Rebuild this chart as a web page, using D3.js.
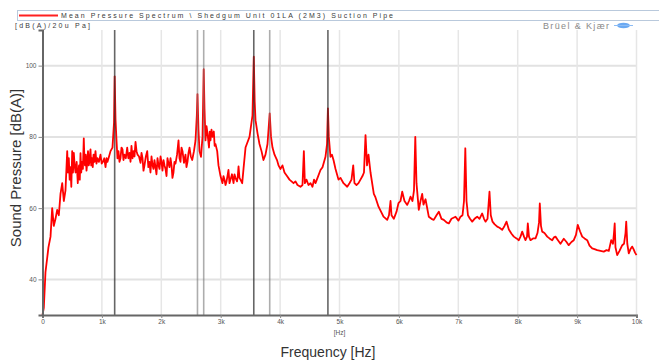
<!DOCTYPE html>
<html>
<head>
<meta charset="utf-8">
<script src="https://cdn.jsdelivr.net/npm/d3@7"></script>
<style>
  html, body { margin: 0; padding: 0; background: #fff; }
  svg { display: block; font-family: "Liberation Sans", Arial, sans-serif; }
</style>
</head>
<body>
<svg id="chart" width="659" height="361"></svg>
<script>
// spectrum: [frequency Hz, level dB(A)]
const spectrum = [
  [0, 30], [22, 32], [50, 42], [79, 46], [100, 49], [135, 52], [163, 60], [190, 55],
  [219, 57], [247, 59.5], [275, 58], [303, 64], [332, 67], [359, 62], [387, 65], [416, 76],
  [430, 70], [443, 74], [457, 68], [471, 71.5], [485, 66], [500, 76], [513, 70], [527, 75.5],
  [541, 72], [556, 70], [575, 73], [594, 67], [605, 70], [615, 72], [628, 68], [640, 75.4],
  [652, 70], [665, 73], [680, 71], [695, 79.6], [705, 74], [715, 72], [728, 75], [741, 70.5],
  [754, 73], [766, 76], [779, 72], [791, 73], [800, 75], [808, 76.5], [820, 72], [833, 74],
  [846, 71.5], [859, 75], [875, 73], [892, 76], [909, 72.5], [926, 74], [950, 73], [976, 75],
  [997, 72.5], [1018, 73], [1040, 74], [1061, 71.5], [1078, 74], [1094, 73], [1120, 74.5], [1145, 76],
  [1178, 77], [1204, 84], [1215, 97], [1229, 85], [1246, 79], [1262, 74], [1279, 76], [1296, 73],
  [1313, 74], [1330, 77], [1347, 76.5], [1363, 73.5], [1380, 75], [1403, 74], [1426, 77], [1445, 74],
  [1465, 75.5], [1482, 73], [1498, 77.5], [1515, 74], [1532, 76], [1549, 74.5], [1566, 78.6], [1583, 76],
  [1600, 75], [1625, 74.5], [1650, 72.7], [1667, 75.5], [1684, 74], [1700, 70.5], [1717, 72], [1740, 74.5],
  [1763, 76], [1782, 71.5], [1801, 73], [1818, 70], [1835, 74.5], [1852, 72], [1869, 71], [1885, 73.5],
  [1902, 71.5], [1919, 69.5], [1936, 74], [1953, 72], [1970, 71], [1987, 74.5], [2003, 73], [2020, 70.5],
  [2037, 73.5], [2054, 72], [2071, 71], [2088, 69], [2104, 74], [2121, 72.5], [2138, 71.5], [2155, 74],
  [2172, 72], [2188, 68.5], [2205, 70], [2222, 73], [2239, 72.5], [2265, 75], [2290, 79], [2306, 74],
  [2323, 73], [2340, 77], [2357, 76], [2382, 72.7], [2407, 75], [2424, 71.5], [2441, 73], [2458, 75.5],
  [2475, 77], [2497, 74.5], [2520, 73.5], [2550, 76], [2576, 79], [2598, 86], [2609, 92], [2626, 82],
  [2643, 76], [2668, 74.4], [2694, 80], [2714, 99], [2727, 88], [2744, 79], [2761, 83], [2778, 81],
  [2803, 77], [2816, 81.5], [2828, 79], [2845, 82], [2862, 80], [2884, 81.5], [2898, 77.5], [2912, 78],
  [2941, 76], [2963, 72], [2997, 69], [3030, 67], [3047, 69], [3064, 68], [3081, 66.5], [3098, 67.5],
  [3114, 69], [3131, 70.7], [3148, 67], [3165, 68], [3190, 69.5], [3216, 67], [3232, 69.5], [3249, 68.5],
  [3275, 67.5], [3288, 69], [3300, 71.7], [3316, 68.5], [3333, 68], [3362, 67], [3384, 71], [3418, 77],
  [3451, 78.5], [3485, 80], [3510, 83], [3535, 86], [3557, 102.5], [3572, 90], [3586, 84.7], [3620, 81],
  [3653, 78], [3687, 76], [3720, 73.5], [3754, 75], [3788, 78], [3825, 86.6], [3847, 80], [3872, 77],
  [3906, 75], [3948, 73.5], [3973, 72], [4007, 71], [4040, 72], [4074, 70], [4116, 69], [4158, 68],
  [4192, 67.5], [4226, 67], [4259, 67.5], [4293, 66.5], [4343, 66], [4377, 66.5], [4400, 76], [4417, 67],
  [4444, 68], [4478, 66.5], [4512, 67], [4545, 66], [4571, 68], [4596, 67], [4630, 68.5], [4680, 70.7],
  [4714, 71.5], [4764, 74.4], [4790, 78], [4805, 88], [4820, 80], [4848, 74.4], [4873, 75], [4899, 73.5],
  [4933, 71], [4983, 68], [5017, 68.5], [5067, 67], [5130, 66], [5168, 67], [5202, 68], [5231, 72],
  [5252, 67], [5286, 66.5], [5320, 67], [5353, 68], [5387, 69], [5412, 70], [5438, 80.5], [5463, 72],
  [5488, 75], [5522, 70], [5578, 64], [5606, 63], [5657, 60.4], [5699, 59], [5741, 57.6], [5803, 56.7],
  [5833, 58], [5859, 62], [5876, 58], [5914, 57], [5960, 59], [5993, 61.4], [6027, 62], [6056, 64.6],
  [6094, 62], [6140, 60.9], [6170, 62], [6195, 63.2], [6229, 62], [6254, 65], [6276, 80], [6296, 67],
  [6335, 59.5], [6364, 62], [6392, 64], [6414, 61], [6448, 62.5], [6503, 57.6], [6549, 57], [6587, 56.7],
  [6633, 58], [6672, 59], [6717, 57], [6756, 56.7], [6801, 56], [6840, 55.7], [6885, 57], [6953, 57.6],
  [7003, 56.5], [7037, 57.6], [7071, 58], [7096, 62], [7118, 76.8], [7138, 62], [7163, 58], [7197, 57],
  [7234, 56.2], [7273, 57], [7318, 57.6], [7357, 57], [7402, 58.5], [7433, 57], [7458, 56.2], [7492, 57],
  [7525, 64.6], [7547, 58], [7576, 56.2], [7609, 55.5], [7655, 54.8], [7694, 54.5], [7739, 53.9], [7778, 55],
  [7812, 56.2], [7851, 54], [7896, 52.8], [7935, 52], [7980, 51.5], [8019, 51], [8047, 52], [8076, 53.4],
  [8106, 52], [8131, 51], [8157, 52], [8170, 55.7], [8190, 52], [8215, 51], [8258, 51.5], [8300, 51.5],
  [8333, 53], [8359, 56], [8372, 61.3], [8392, 55], [8412, 53.4], [8451, 53], [8497, 52], [8535, 51.5],
  [8581, 51], [8611, 51.8], [8636, 52], [8678, 51], [8720, 50], [8776, 51.4], [8822, 50.5], [8859, 49.6],
  [8905, 50.5], [8944, 51], [8981, 52.5], [9011, 55.3], [9049, 53.5], [9086, 52], [9125, 51.5], [9170, 51],
  [9209, 49.5], [9254, 48.7], [9293, 48.5], [9338, 48.2], [9394, 48], [9449, 47.8], [9495, 48.2], [9534, 48],
  [9574, 51], [9604, 50], [9621, 53], [9633, 55.7], [9646, 49], [9675, 46.8], [9714, 48], [9760, 49.6],
  [9790, 50], [9815, 53], [9827, 56.2], [9845, 50], [9870, 47.3], [9899, 48.5], [9928, 49.2], [9950, 48.5],
  [9975, 47.5], [10000, 46.8]
];

// harmonic cursor lines (Hz) and how dark they are drawn
const cursorHz = [1215, 2609, 2714, 3557, 3825, 4805];
const cursorDark = [true, false, false, true, false, true];

const yTicks = [40, 60, 80, 100];
const xTicks = [0, 1000, 2000, 3000, 4000, 5000, 6000, 7000, 8000, 9000, 10000];
const xTickLabels = ["0", "1k", "2k", "3k", "4k", "5k", "6k", "7k", "8k", "9k", "10k"];

const legendText = "Mean Pressure Spectrum  \\ Shedgum  Unit 01LA (2M3) Suction Pipe";

const svg = d3.select("#chart");

const x = d3.scaleLinear().domain([0, 10000]).range([42.5, 636.5]);
const y = d3.scaleLinear().domain([30, 110]).range([315, 30]);

// legend strip across the top
svg.append("rect")
  .attr("x", 17.5).attr("y", 10.5)
  .attr("width", 660).attr("height", 10)
  .attr("fill", "#fff")
  .attr("stroke", "#b9c9dc")
  .attr("stroke-width", 1);
svg.append("line")
  .attr("x1", 19).attr("x2", 58).attr("y1", 15.5).attr("y2", 15.5)
  .attr("stroke", "#ff2020").attr("stroke-width", 2);
svg.append("text")
  .attr("x", 61).attr("y", 18)
  .attr("font-size", 7).attr("fill", "#3a3a3a")
  .attr("textLength", 332).attr("lengthAdjust", "spacing")
  .text(legendText);

svg.append("text")
  .attr("x", 15).attr("y", 28)
  .attr("font-size", 7).attr("fill", "#3a3a3a")
  .attr("textLength", 75).attr("lengthAdjust", "spacing")
  .text("[dB(A)/20u Pa]");

svg.append("text")
  .attr("x", 543).attr("y", 28.5)
  .attr("font-size", 9).attr("fill", "#8a8a8a")
  .attr("textLength", 66).attr("lengthAdjust", "spacing")
  .text("Brüel & Kjær");
svg.append("ellipse")
  .attr("cx", 623.5).attr("cy", 25.5).attr("rx", 6.5).attr("ry", 2.8)
  .attr("fill", "#6aa9f2");
svg.append("line")
  .attr("x1", 614).attr("x2", 633).attr("y1", 25.5).attr("y2", 25.5)
  .attr("stroke", "#8cbcf5").attr("stroke-width", 1);

// grid
const grid = svg.append("g");
grid.selectAll(".hg").data(yTicks).enter().append("line")
  .attr("x1", x(0)).attr("x2", x(10000))
  .attr("y1", d => y(d)).attr("y2", d => y(d))
  .attr("stroke", "#e2e2e2").attr("stroke-width", 2);
grid.selectAll(".vg").data(xTicks.slice(1)).enter().append("line")
  .attr("x1", d => x(d)).attr("x2", d => x(d))
  .attr("y1", y(110)).attr("y2", y(30))
  .attr("stroke", "#e6e6e6").attr("stroke-width", 1.5);

// the spectrum
const line = d3.line()
  .x(d => x(d[0]))
  .y(d => y(d[1]));

svg.append("path")
  .datum(spectrum)
  .attr("d", line)
  .attr("fill", "none")
  .attr("stroke", "#ff0000")
  .attr("stroke-width", 1.8)
  .attr("stroke-linejoin", "round");

// cursor lines drawn over the curve
svg.selectAll(".cursor").data(cursorHz).enter().append("line")
  .attr("x1", d => x(d)).attr("x2", d => x(d))
  .attr("y1", y(110)).attr("y2", y(30))
  .attr("stroke", (d, i) => cursorDark[i] ? "#333" : "#777")
  .attr("stroke-opacity", (d, i) => cursorDark[i] ? 0.75 : 0.6)
  .attr("stroke-width", 1.6);

// axes
const xAxis = d3.axisBottom(x)
  .tickValues(xTicks)
  .tickFormat((d, i) => xTickLabels[i])
  .tickSize(3);
const gx = svg.append("g")
  .attr("transform", `translate(0,${y(30)})`)
  .call(xAxis);
gx.select(".domain").attr("stroke", "#666").attr("stroke-width", 2);
gx.selectAll(".tick line").attr("stroke", "#888");
gx.selectAll(".tick text")
  .attr("font-size", 6.5).attr("fill", "#555")
  .attr("font-family", "Liberation Sans, Arial, sans-serif")
  .attr("y", 4);

const yAxis = d3.axisLeft(y)
  .tickValues(yTicks)
  .tickSize(4);
const gy = svg.append("g")
  .attr("transform", `translate(${x(0)},0)`)
  .call(yAxis);
gy.select(".domain").attr("stroke", "#666").attr("stroke-width", 2);
gy.selectAll(".tick line").attr("stroke", "#888");
gy.selectAll(".tick text")
  .attr("font-size", 6.5).attr("fill", "#555")
  .attr("font-family", "Liberation Sans, Arial, sans-serif")
  .attr("x", -6);

svg.append("text")
  .attr("x", x(5000)).attr("y", 335)
  .attr("text-anchor", "middle")
  .attr("font-size", 6.5).attr("fill", "#555")
  .text("[Hz]");

// axis titles
svg.append("text")
  .attr("x", 328).attr("y", 357)
  .attr("text-anchor", "middle")
  .attr("font-size", 14).attr("fill", "#333")
  .text("Frequency [Hz]");

svg.append("text")
  .attr("transform", "translate(21,168) rotate(-90)")
  .attr("text-anchor", "middle")
  .attr("font-size", 15).attr("fill", "#333")
  .text("Sound Pressure [dB(A)]");
</script>
</body>
</html>
